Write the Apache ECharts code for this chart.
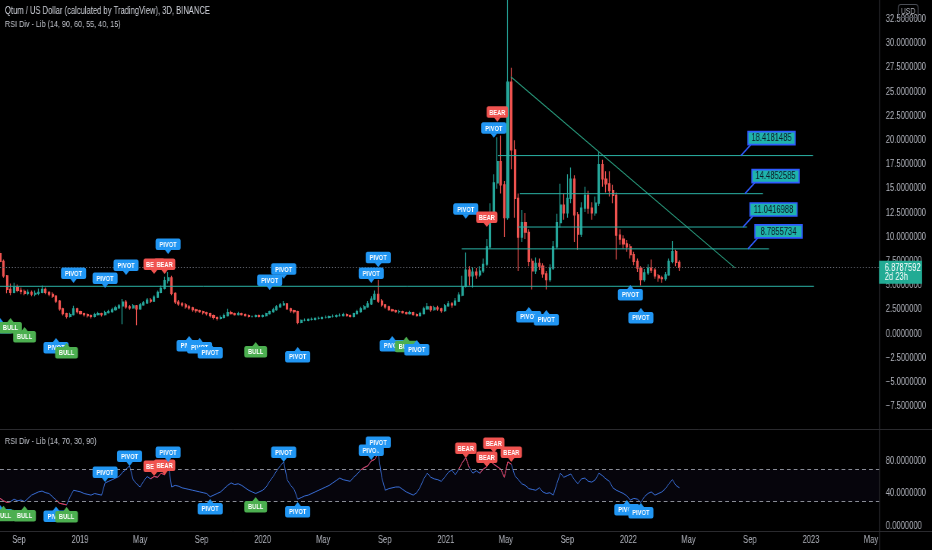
<!DOCTYPE html>
<html><head><meta charset="utf-8">
<script src="https://cdn.jsdelivr.net/npm/echarts@6/dist/echarts.min.js"></script>
<style>html,body{margin:0;padding:0;background:#000;overflow:hidden;width:932px;height:550px;}#c{width:1226px;height:550px;transform:scaleX(0.76020);transform-origin:0 0;}</style>
</head><body><div id="c"></div>
<script>
const FONT = '"Liberation Sans",Arial,sans-serif';
// ---- data ----
const startDate = Date.UTC(2018, 6, 25);
const stepDays = 7;
const firstOpen = 8.3;
const closes = [
7.5,6.0,4.6,4.3,4.8,4.5,4.4,4.2,4.3,4.1,
4.2,4.3,4.6,4.3,4.1,3.9,3.4,2.6,2.1,1.8,
2.0,2.6,2.3,2.1,2.0,1.9,1.8,2.0,2.1,2.0,
2.2,2.3,2.5,2.7,2.9,3.3,2.8,2.7,2.9,2.6,
3.0,3.2,3.5,3.4,3.8,4.3,4.7,5.5,5.8,4.2,
3.3,3.1,3.0,2.8,2.7,2.5,2.4,2.3,2.2,2.1,
1.9,1.7,1.6,1.7,1.9,2.2,2.1,2.0,2.1,2.0,
1.9,1.8,1.8,1.9,1.8,1.9,2.1,2.3,2.5,2.8,
3.0,3.1,2.6,2.4,2.3,1.2,1.4,1.4,1.5,1.5,
1.6,1.6,1.7,1.7,1.8,1.8,1.9,1.9,2.0,1.9,
1.8,2.1,2.3,2.6,2.8,3.1,3.6,4.1,3.4,3.0,
2.8,2.5,2.4,2.3,2.3,2.2,2.1,2.2,2.0,1.9,
2.1,2.6,2.8,2.5,2.7,2.6,2.4,2.9,3.1,3.0,
3.4,4.0,4.9,6.6,6.0,6.4,6.1,6.5,7.2,9.0,
12.5,15.6,17.8,15.4,12.0,26.0,19.0,14.0,10.0,11.5,
10.5,7.5,6.5,7.3,7.0,6.2,5.6,6.8,9.0,11.5,
13.3,12.5,14.0,16.0,12.3,10.3,13.0,14.3,13.0,12.5,
13.5,17.5,16.0,15.5,14.8,14.3,10.2,9.8,9.3,9.0,
8.2,7.5,6.8,5.6,6.3,6.8,6.6,6.0,5.8,5.7,
6.1,7.5,8.5,7.4,6.8787592];
const highs = [
8.6,7.7,6.1,5.2,5.3,5.1,4.8,4.6,4.6,4.5,
4.5,4.7,5.0,4.8,4.4,4.3,4.0,3.5,2.7,2.2,
2.2,2.9,2.7,2.4,2.2,2.1,2.0,2.2,2.3,2.2,
2.4,2.5,2.7,2.9,3.1,3.6,3.5,3.0,3.1,3.0,
3.2,3.4,3.7,3.7,4.0,4.5,5.0,5.9,6.4,6.0,
4.3,3.5,3.3,3.2,3.0,2.8,2.6,2.5,2.4,2.3,
2.2,2.0,1.8,1.9,2.1,2.6,2.4,2.2,2.3,2.2,
2.1,2.0,1.9,2.0,2.0,2.0,2.2,2.4,2.7,3.0,
3.2,3.4,3.2,2.7,2.5,2.4,1.5,1.6,1.6,1.7,
1.7,1.8,1.8,1.9,1.9,2.0,2.0,2.1,2.2,2.1,
2.0,2.2,2.5,2.8,3.0,3.4,3.9,4.5,5.6,3.6,
3.1,2.9,2.6,2.5,2.5,2.4,2.3,2.4,2.3,2.1,
2.3,2.8,3.2,2.9,2.9,2.9,2.7,3.1,3.4,3.3,
3.7,4.3,6.0,8.4,7.0,6.9,6.8,7.0,7.8,9.8,
13.5,16.5,20.3,20.5,15.8,36.0,27.5,20.0,14.5,12.8,
12.5,10.8,7.8,7.9,7.8,7.3,6.5,7.2,9.6,12.4,
15.5,14.5,16.5,17.2,16.4,12.6,13.6,15.2,14.8,13.6,
14.2,18.8,18.0,16.8,16.8,15.4,14.6,10.8,10.2,9.7,
9.3,8.5,7.8,7.0,6.7,7.2,7.7,6.8,6.2,6.0,
6.4,7.8,9.6,8.7,7.6];
const lows = [
7.3,5.8,4.2,4.0,4.2,4.3,4.1,4.0,4.0,3.9,
3.9,4.0,4.2,4.1,3.9,3.7,3.2,2.4,1.9,1.6,
1.7,1.9,2.1,2.0,1.8,1.7,1.6,1.7,1.9,1.8,
1.9,2.1,2.2,2.4,2.6,1.0,2.6,2.5,2.6,0.9,
2.5,2.9,3.1,3.2,3.3,3.7,4.2,4.6,5.2,4.0,
3.1,2.9,2.8,2.6,2.5,2.3,2.2,2.2,2.0,1.9,
1.7,1.5,1.4,1.5,1.6,1.8,2.0,1.9,1.9,1.9,
1.8,1.7,1.7,1.7,1.7,1.7,1.8,2.0,2.2,2.4,
2.7,2.9,2.5,2.2,2.1,1.0,1.1,1.3,1.3,1.4,
1.4,1.5,1.5,1.6,1.6,1.7,1.7,1.8,1.8,1.8,
1.7,1.7,2.0,2.2,2.5,2.7,3.0,3.5,3.2,2.8,
2.6,2.4,2.3,2.2,2.1,2.1,2.0,2.0,1.9,1.8,
1.8,2.0,2.5,2.3,2.4,2.4,2.2,2.3,2.8,2.7,
2.9,3.3,3.9,4.8,5.0,4.8,5.7,5.9,6.3,7.0,
8.8,12.0,15.0,14.5,10.0,11.8,17.0,12.0,6.5,9.5,
9.8,7.0,4.6,6.2,6.6,5.8,4.6,5.4,6.6,8.8,
11.0,11.8,12.0,13.5,9.5,8.7,10.0,12.6,12.4,11.8,
12.2,13.2,15.2,14.6,14.2,13.5,7.7,9.2,8.8,8.5,
7.8,7.1,6.4,5.0,5.4,6.1,6.3,5.7,5.4,5.3,
5.5,6.0,7.3,7.0,6.5];
const rsi = [
34,31,29,30,33,31,32,30,34,38,
40,42,43,41,40,36,32,28,27,26,
36,44,43,42,40,39,38,40,39,38,
53,55,57,59,61,66,70,74,57,52,
48,55,61,58,61,60,65,63,77,48,
50,49,47,46,45,44,43,42,41,40,
36,38,40,42,46,50,53,51,52,50,
47,44,42,40,42,44,48,55,61,68,
74,79,57,50,45,33,35,37,38,40,
42,44,46,48,50,53,56,59,57,56,
55,60,64,69,72,74,80,82,89,60,
44,46,47,48,48,45,42,40,38,41,
48,58,65,60,58,57,55,60,66,69,
63,70,78,84,72,65,68,65,70,73,
80,76,73,70,60,79,76,62,57,52,
50,46,45,44,47,42,40,41,38,52,
65,60,62,64,57,52,58,59,55,54,
57,65,62,58,55,47,44,42,40,37,
32,34,33,29,36,40,42,38,40,42,
46,52,57,50,47];
const rsiRedRanges = [[0,3],[16,19],[43,48],[103,108],[131,134],[137,146]];
const xMin = Date.UTC(2018, 6, 25);
const xMax = Date.UTC(2023, 4, 17);
const xTickDates = ['2018-09-01','2019-01-01','2019-05-01','2019-09-01','2020-01-01','2020-05-01','2020-09-01','2021-01-01','2021-05-01','2021-09-01','2022-01-01','2022-05-01','2022-09-01','2023-01-01','2023-05-01'];
const monthNames = ['Jan','Feb','Mar','Apr','May','Jun','Jul','Aug','Sep','Oct','Nov','Dec'];
const priceLevels = [18.4181485, 14.4852585, 11.0416988, 8.7855734, 4.92];
const levelStarts = ['2021-04-15','2021-05-29','2021-05-25','2021-02-02','2018-07-25'];
const levelEnds = ['2023-01-05','2022-09-27','2022-08-26','2022-10-09','2023-01-07'];
const levelCallouts = ['2022-08-14','2022-08-22','2022-08-18','2022-08-28', null];
const trendDates = ['2021-05-11','2022-08-02'];
const trendValues = [26.55, 6.82];
const countdownText = '2d 23h';
// markers: candle index, tip value, text, direction
const mainMkIdx  = [0,3,7,16,19, 21,30,36,44,47,48, 54,57,60,73,85, 77,81,106,108, 112,116,119, 133,139,142,141, 151,156,180,183];
const mainMkVal  = [1.65,1.65,0.72,-0.41,-0.93, 5.27,4.75,6.1,6.2,6.2,8.26, -0.2,-0.41,-0.93,-0.83,-1.34, 4.55,5.7,5.27,6.9, -0.2,-0.3,-0.62, 11.9,11.05,21.9,20.25, 2.79,2.48,5.06,2.69];
const mainMkText = ['PIVOT','BULL','BULL','PIVOT','BULL', 'PIVOT','PIVOT','PIVOT','BEAR','BEAR','PIVOT', 'PIVOT','PIVOT','PIVOT','BULL','PIVOT', 'PIVOT','PIVOT','PIVOT','PIVOT', 'PIVOT','BULL','PIVOT', 'PIVOT','BEAR','BEAR','PIVOT', 'PIVOT','PIVOT','PIVOT','PIVOT'];
const mainMkDir  = ['up','up','up','up','up', 'down','down','down','down','down','down', 'up','up','up','up','up', 'down','down','down','down', 'up','up','up', 'down','down','down','down', 'up','up','up','up'];
const rsiMkIdx  = [0,1,7,16,19, 30,37,44,47,48,81,106,108, 60,73,85, 141,133,139,146, 179,183];
const rsiMkVal  = [26,25,24.6,24,23.4, 54.2,73.8,61.5,62.8,78.8,78.8,81.2,91, 33.2,35.7,29.5, 90,83.7,72.6,78.8, 32,28.3];
const rsiMkText = ['PIVOT','BULL','BULL','PIVOT','BULL', 'PIVOT','PIVOT','BEAR','BEAR','PIVOT','PIVOT','PIVOT','PIVOT', 'PIVOT','BULL','PIVOT', 'BEAR','BEAR','BEAR','BEAR', 'PIVOT','PIVOT'];
const rsiMkDir  = ['up','up','up','up','up', 'down','down','down','down','down','down','down','down', 'up','up','up', 'down','down','down','down', 'up','up'];

// ---- build ----
const DAY = 86400000;
const dates = closes.map((_, i) => startDate + i * stepDays * DAY);
const candleData = closes.map((c, i) => [dates[i], i === 0 ? firstOpen : closes[i - 1], c, lows[i], highs[i]]);
const lastClose = closes[closes.length - 1];
const rsiData = rsi.map((v, i) => [dates[i], v]);
const inRed = i => rsiRedRanges.some(r => i >= r[0] && i <= r[1]);
const rsiRed = rsi.map((v, i) => [dates[i], inRed(i) ? v : '-']);
const fmtNum = v => v.toFixed(7).replace('-', '\u2212');
const mkColors = { PIVOT: '#2196f3', BEAR: '#f05350', BULL: '#4caf50' };
const mkWidth = { PIVOT: 33, BEAR: 28, BULL: 30 };

function markerSeries(idx, val, txt, dir, xi, yi) {
  return {
    type: 'custom', xAxisIndex: xi, yAxisIndex: yi, z: 5, silent: true, clip: false,
    encode: { x: 0, y: 1 },
    data: idx.map((k, j) => [dates[k], val[j]]),
    renderItem: (params, api) => {
      const j = params.dataIndex;
      const p = api.coord([dates[idx[j]], val[j]]);
      const t = txt[j], col = mkColors[t], w = mkWidth[t], h = 11.5, ph = 4, tw = 4.6;
      let by, tri;
      if (dir[j] === 'down') {
        by = p[1] - ph - h;
        tri = [[p[0] - tw, p[1] - ph - 0.5], [p[0] + tw, p[1] - ph - 0.5], [p[0], p[1]]];
      } else {
        by = p[1] + ph;
        tri = [[p[0] - tw, p[1] + ph + 0.5], [p[0] + tw, p[1] + ph + 0.5], [p[0], p[1]]];
      }
      return { type: 'group', children: [
        { type: 'rect', shape: { x: p[0] - w / 2, y: by, width: w, height: h, r: 2.5 }, style: { fill: col } },
        { type: 'polygon', shape: { points: tri }, style: { fill: col } },
        { type: 'text', style: { text: t, x: p[0], y: by + h / 2 + 0.5, align: 'center', verticalAlign: 'middle', fill: '#ffffff', font: 'bold 7.5px ' + FONT } }
      ]};
    }
  };
}

const chart = echarts.init(document.getElementById('c'), null, { renderer: 'canvas' });
const axisText = { color: '#b2b5be', fontSize: 10, fontFamily: FONT };
const W = 1226, AXIS_X = 1156.3;
chart.setOption({
  backgroundColor: '#000000',
  animation: false,
  title: [
    { text: 'Qtum / US Dollar (calculated by TradingView), 3D, BINANCE', left: 6.6, top: 6, padding: 0, textStyle: { color: '#d1d4dc', fontSize: 10, fontWeight: 'normal', fontFamily: FONT } },
    { text: 'RSI Div - Lib (14, 90, 60, 55, 40, 15)', left: 6.6, top: 19, padding: 0, textStyle: { color: '#c3c6ce', fontSize: 9.5, fontWeight: 'normal', fontFamily: FONT } },
    { text: 'RSI Div - Lib (14, 70, 30, 90)', left: 6.6, top: 436, padding: 0, textStyle: { color: '#c3c6ce', fontSize: 9.5, fontWeight: 'normal', fontFamily: FONT } }
  ],
  grid: [
    { left: 0, right: W - AXIS_X, top: -5, bottom: 119.2, containLabel: false, outerBoundsMode: 'none' },
    { left: 0, right: W - AXIS_X, top: 428.5, bottom: 24, containLabel: false, outerBoundsMode: 'none' }
  ],
  xAxis: [
    { type: 'value', gridIndex: 0, min: xMin, max: xMax, show: false, splitLine: { show: false } },
    { type: 'value', gridIndex: 1, min: xMin, max: xMax,
      axisLine: { show: false }, axisTick: { show: false }, splitLine: { show: false },
      axisLabel: Object.assign({}, axisText, { margin: 9, hideOverlap: false,
        customValues: xTickDates.map(d => Date.parse(d)),
        formatter: v => { const d = new Date(v); return d.getUTCMonth() === 0 ? String(d.getUTCFullYear()) : monthNames[d.getUTCMonth()]; } }) }
  ],
  yAxis: [
    { type: 'value', gridIndex: 0, position: 'right', min: -10, max: 35, interval: 2.5,
      splitLine: { show: false }, axisLine: { show: false }, axisTick: { show: false },
      axisLabel: Object.assign({}, axisText, { margin: 9, showMinLabel: false, showMaxLabel: false, formatter: fmtNum }) },
    { type: 'value', gridIndex: 1, position: 'right', min: 0, max: 120, interval: 40,
      splitLine: { show: false }, axisLine: { show: false }, axisTick: { show: false },
      axisLabel: Object.assign({}, axisText, { margin: 9, showMaxLabel: false, formatter: fmtNum }) }
  ],
  graphic: [
    { type: 'line', shape: { x1: AXIS_X + 0.6, y1: 0, x2: AXIS_X + 0.6, y2: 550 }, style: { stroke: '#2a2a2e', lineWidth: 1.3 }, z: 1 },
    { type: 'line', shape: { x1: 0, y1: 429.5, x2: W, y2: 429.5 }, style: { stroke: '#2a2a2e', lineWidth: 1 }, z: 1 },
    { type: 'line', shape: { x1: 0, y1: 531.5, x2: W, y2: 531.5 }, style: { stroke: '#2a2a2e', lineWidth: 1 }, z: 1 },
    { type: 'rect', shape: { x: 1181.5, y: 4.5, width: 26.3, height: 13, r: 3.5 }, style: { fill: 'none', stroke: '#4a4d55', lineWidth: 1.2 }, z: 1 },
    { type: 'text', style: { text: 'USD', x: 1194.6, y: 11.5, align: 'center', verticalAlign: 'middle', fill: '#b2b5be', font: '9px ' + FONT }, z: 1 }
  ],
  series: [
    { type: 'candlestick', xAxisIndex: 0, yAxisIndex: 0, barWidth: 2.6, z: 2,
      encode: { x: 0, y: [1, 2, 3, 4] },
      data: candleData,
      itemStyle: { color: '#26a69a', color0: '#ef5350', borderColor: '#26a69a', borderColor0: '#ef5350', borderWidth: 1.2 },
      markLine: { silent: true, symbol: 'none', label: { show: false },
        lineStyle: { color: '#6a6d78', type: [1.3, 2.6], width: 1 }, data: [{ yAxis: lastClose }] } },
    { type: 'line', xAxisIndex: 0, yAxisIndex: 0, showSymbol: false, silent: true, z: 3,
      data: trendDates.map((d, k) => [Date.parse(d), trendValues[k]]),
      lineStyle: { color: '#2a9f80', width: 1.1 } },
    { type: 'custom', xAxisIndex: 0, yAxisIndex: 0, z: 4, silent: true, clip: false,
      encode: { x: 0, y: 1 },
      data: priceLevels.map((v, k) => [Date.parse(levelStarts[k]), v]),
      renderItem: (params, api) => {
        const k = params.dataIndex, v = priceLevels[k];
        const a = api.coord([Date.parse(levelStarts[k]), v]);
        const b = api.coord([Date.parse(levelEnds[k]), v]);
        const ch = [{ type: 'line', shape: { x1: a[0], y1: a[1], x2: b[0], y2: b[1] }, style: { stroke: '#2bb3a6', lineWidth: 1 } }];
        if (levelCallouts[k]) {
          const c = api.coord([Date.parse(levelCallouts[k]), v]);
          const bx = c[0] + 9.2, by = c[1] - 24;
          ch.push({ type: 'line', shape: { x1: c[0], y1: c[1], x2: c[0] + 13, y2: c[1] - 11 }, style: { stroke: '#2f5bff', lineWidth: 1.6 } });
          ch.push({ type: 'rect', shape: { x: bx, y: by, width: 62, height: 13 }, style: { fill: '#1fb3ab', stroke: '#2f5bff', lineWidth: 1.6 } });
          ch.push({ type: 'text', style: { text: v.toFixed(7), x: bx + 31, y: by + 7, align: 'center', verticalAlign: 'middle', fill: '#0d1b2a', font: '10px ' + FONT } });
        }
        return { type: 'group', children: ch };
      } },
    markerSeries(mainMkIdx, mainMkVal, mainMkText, mainMkDir, 0, 0),
    { type: 'custom', xAxisIndex: 0, yAxisIndex: 0, z: 6, silent: true, clip: false,
      encode: { x: 0, y: 1 },
      data: [[dates[dates.length - 1], lastClose]],
      renderItem: (params, api) => {
        const p = api.coord([xMax, lastClose]);
        return { type: 'group', children: [
          { type: 'rect', shape: { x: p[0], y: p[1] - 6.5, width: 56.6, height: 23 }, style: { fill: '#22ab94' } },
          { type: 'text', style: { text: fmtNum(lastClose), x: p[0] + 7.5, y: p[1] + 0.5, align: 'left', verticalAlign: 'middle', fill: '#ffffff', font: '10px ' + FONT } },
          { type: 'text', style: { text: countdownText, x: p[0] + 7.5, y: p[1] + 10, align: 'left', verticalAlign: 'middle', fill: '#ffffff', font: '10px ' + FONT } }
        ]};
      } },
    { type: 'line', xAxisIndex: 1, yAxisIndex: 1, showSymbol: false, silent: true, z: 3,
      data: rsiData, lineStyle: { color: '#3a6fd8', width: 1 },
      markArea: { silent: true, itemStyle: { color: 'rgba(110,80,200,0.06)' }, data: [[{ yAxis: 30 }, { yAxis: 70 }]] },
      markLine: { silent: true, symbol: 'none', label: { show: false },
        lineStyle: { color: '#8a8d96', type: [5, 4], width: 1 }, data: [{ yAxis: 70 }, { yAxis: 30 }] } },
    { type: 'line', xAxisIndex: 1, yAxisIndex: 1, showSymbol: false, silent: true, z: 3, connectNulls: false,
      data: rsiRed, lineStyle: { color: '#f23645', width: 1 } },
    markerSeries(rsiMkIdx, rsiMkVal, rsiMkText, rsiMkDir, 1, 1)
  ]
});
</script>
</body></html>
